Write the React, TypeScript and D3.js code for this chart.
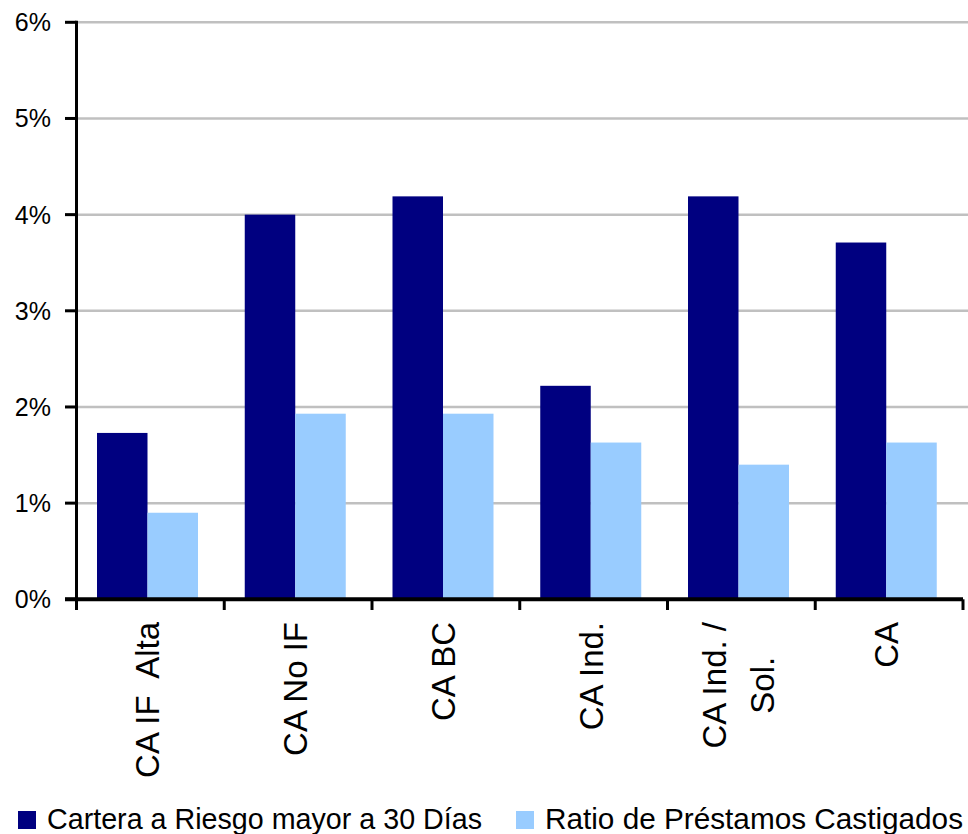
import React, { useEffect, useRef } from 'react';
import * as d3 from 'd3';

// values (percent)
const categories = ['CA IF  Alta', 'CA No IF', 'CA BC', 'CA Ind.', 'CA Ind. / Sol.', 'CA'];
const categoryLines = [['CA IF  Alta'], ['CA No IF'], ['CA BC'], ['CA Ind.'], ['CA Ind. /', 'Sol.'], ['CA']];
const carteraRiesgo = [1.73, 4.0, 4.19, 2.22, 4.19, 3.71];
const ratioCastigados = [0.9, 1.93, 1.93, 1.63, 1.4, 1.63];
const seriesNames = ['Cartera a Riesgo mayor a 30 Días', 'Ratio de Préstamos Castigados'];
const seriesColors = ['#000080', '#99CCFF'];
const yTicks = [0, 1, 2, 3, 4, 5, 6];

const W = 968;
const H = 834;
const FONT = "'Liberation Sans', Arial, sans-serif";

const App = () => {
  const ref = useRef<SVGSVGElement>(null);

  useEffect(() => {
    const svg = d3.select(ref.current);
    svg.selectAll('*').remove();

    const y = d3.scaleLinear().domain([0, 6]).range([599.3, 22.3]);
    const x0 = d3.scaleBand().domain(categories).range([76.5, 963]).padding(0);
    const x1 = d3.scaleBand().domain(seriesNames).range([0, 101]).padding(0);
    const groupOffset = 20.5;
    const seriesValues = [carteraRiesgo, ratioCastigados];

    // gridlines
    svg.append('g')
      .selectAll('line')
      .data(yTicks.filter(t => t > 0))
      .join('line')
      .attr('x1', 78).attr('x2', W)
      .attr('y1', d => y(d)).attr('y2', d => y(d))
      .attr('stroke', '#C0C0C0')
      .attr('stroke-width', 2.5);

    // bars
    seriesNames.forEach((s, si) => {
      svg.append('g')
        .selectAll('rect')
        .data(seriesValues[si])
        .join('rect')
        .attr('x', (d, i) => x0(categories[i])! + groupOffset + x1(s)!)
        .attr('y', d => y(d))
        .attr('width', x1.bandwidth())
        .attr('height', d => y(0) - y(d))
        .attr('fill', seriesColors[si]);
    });

    // y axis
    const yAxis = svg.append('g');
    yAxis.append('line')
      .attr('x1', 76.5).attr('x2', 76.5)
      .attr('y1', y(6) - 1.5).attr('y2', 610)
      .attr('stroke', '#000').attr('stroke-width', 3);
    yAxis.selectAll('line.tick')
      .data(yTicks)
      .join('line')
      .attr('class', 'tick')
      .attr('x1', 65).attr('x2', 76.5)
      .attr('y1', d => y(d)).attr('y2', d => y(d))
      .attr('stroke', '#000').attr('stroke-width', 3);
    yAxis.selectAll('text')
      .data(yTicks)
      .join('text')
      .attr('x', 51)
      .attr('y', d => y(d))
      .attr('text-anchor', 'end')
      .attr('dominant-baseline', 'central')
      .attr('font-family', FONT)
      .attr('font-size', 25)
      .text(d => `${d}%`);

    // x axis
    const xAxis = svg.append('g');
    xAxis.append('line')
      .attr('x1', 65).attr('x2', 963)
      .attr('y1', y(0)).attr('y2', y(0))
      .attr('stroke', '#000').attr('stroke-width', 4);
    const bounds = categories.map(c => x0(c)!).concat([x0.range()[1]]);
    xAxis.selectAll('line.tick')
      .data(bounds.slice(1))
      .join('line')
      .attr('class', 'tick')
      .attr('x1', d => d).attr('x2', d => d)
      .attr('y1', y(0)).attr('y2', 610)
      .attr('stroke', '#000').attr('stroke-width', 3);

    // category labels, rotated, block end at top
    const labelTop = 622;
    const lineH = 48;
    categories.forEach((c, i) => {
      const cx = x0(c)! + x0.bandwidth() / 2;
      const lines = categoryLines[i];
      const g = xAxis.append('g');
      const texts = g.selectAll('text')
        .data(lines)
        .join('text')
        .attr('font-family', FONT)
        .attr('font-size', 33)
        .attr('text-anchor', 'middle')
        .style('white-space', 'pre')
        .text(d => d);
      const lens = texts.nodes().map(n => (n as SVGTextElement).getComputedTextLength());
      const maxLen = d3.max(lens) ?? 0;
      const midY = labelTop + maxLen / 2;
      texts.attr('transform', (d, li) => {
        const bx = cx + 11 - 2 + (li - (lines.length - 1) / 2) * lineH;
        return `translate(${bx},${midY}) rotate(-90)`;
      });
    });

    // legend
    const legend = svg.append('g');
    const legendItems = [
      { x: 18, tx: 47, len: 435 },
      { x: 516, tx: 545, len: 418 },
    ];
    legendItems.forEach((it, i) => {
      legend.append('rect')
        .attr('x', it.x).attr('y', 811)
        .attr('width', 18).attr('height', 18)
        .attr('fill', seriesColors[i]);
      legend.append('text')
        .attr('x', it.tx).attr('y', 829)
        .attr('font-family', FONT)
        .attr('font-size', 29)
        .attr('textLength', it.len)
        .attr('lengthAdjust', 'spacingAndGlyphs')
        .text(seriesNames[i]);
    });
  }, []);

  return (
    <svg
      ref={ref}
      width={W}
      height={H}
      style={{ position: 'absolute', left: 0, top: 0, background: '#fff' }}
    />
  );
};

export default App;
